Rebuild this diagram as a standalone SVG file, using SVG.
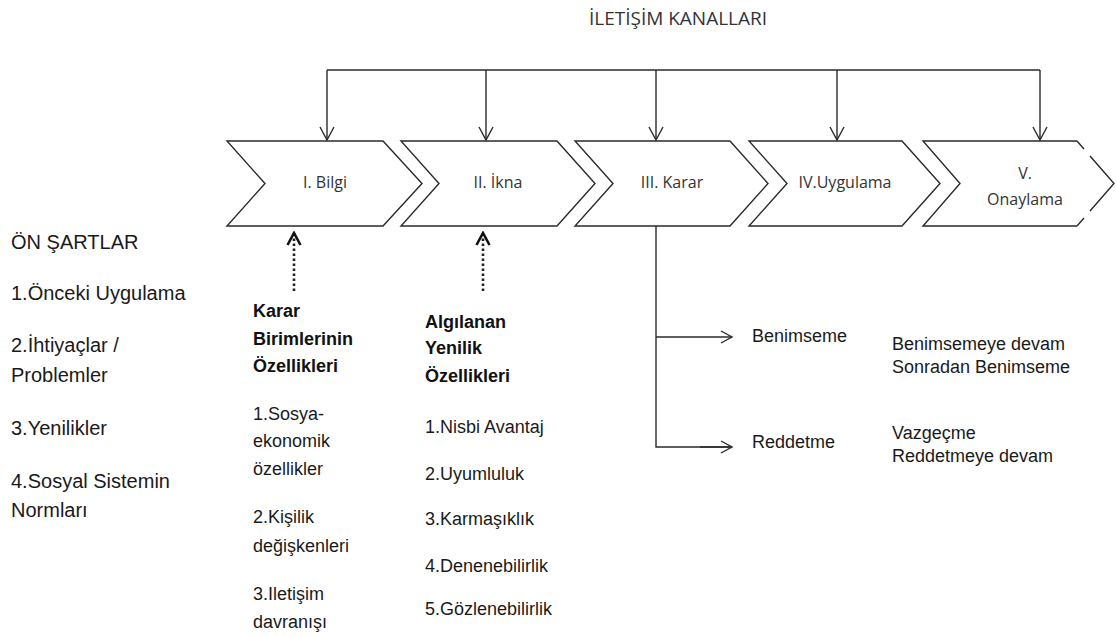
<svg xmlns="http://www.w3.org/2000/svg" width="1116" height="637" viewBox="0 0 1116 637">
<style>
.bg{fill:#fff}
.chev{fill:#fff;stroke:#2a2a2a;stroke-width:1.4;stroke-linejoin:miter}
.ln{fill:none;stroke:#2a2a2a;stroke-width:1.4}
.dot{fill:none;stroke:#222;stroke-width:2.6;stroke-dasharray:2.6 2.4}
.ct{font-family:"Open Sans",sans-serif;font-size:16px;fill:#333;text-anchor:middle}
.tt{font-family:"Open Sans",sans-serif;font-size:19px;fill:#333;text-anchor:middle}
.l{font-family:"Liberation Sans",Arial,sans-serif;font-size:20px;fill:#1a1a1a}
.m{font-family:"Liberation Sans",Arial,sans-serif;font-size:18px;fill:#1a1a1a}
.b{font-weight:bold;fill:#111}
</style>
<defs>
<marker id="ah" viewBox="0 0 16 16" refX="14" refY="8" markerWidth="16" markerHeight="16" markerUnits="userSpaceOnUse" orient="auto">
<path d="M1,1 L14,8 L1,15" fill="none" stroke="#2a2a2a" stroke-width="1.4"/>
</marker>
<marker id="ahs" viewBox="0 0 14 14" refX="12" refY="7" markerWidth="14" markerHeight="14" markerUnits="userSpaceOnUse" orient="auto">
<path d="M1,1 L12,7 L1,13" fill="none" stroke="#2a2a2a" stroke-width="1.4"/>
</marker>
<marker id="ahd" viewBox="0 0 16 16" refX="14" refY="8" markerWidth="16" markerHeight="16" markerUnits="userSpaceOnUse" orient="auto">
<path d="M2,1.5 L14,8 L2,14.5" fill="none" stroke="#111" stroke-width="2.6"/>
</marker>
</defs>
<rect class="bg" x="0" y="0" width="1116" height="637"/>

<text id="title" class="tt" x="678" y="25">İLETİŞİM KANALLARI</text>

<g id="connectors">
<path class="ln" d="M327,70 H1040"/>
<path class="ln" d="M327,70 V140" marker-end="url(#ah)"/>
<path class="ln" d="M486,70 V140" marker-end="url(#ah)"/>
<path class="ln" d="M656,70 V140" marker-end="url(#ah)"/>
<path class="ln" d="M837,70 V140" marker-end="url(#ah)"/>
<path class="ln" d="M1040,70 V140" marker-end="url(#ah)"/>
<path class="dot" d="M294,291 V233" marker-end="url(#ahd)"/>
<path class="dot" d="M483,291 V233" marker-end="url(#ahd)"/>
<path class="ln" d="M656,226 V447 H732"/>
<path class="ln" d="M656,337 H732" marker-end="url(#ahs)"/>
<path class="ln" d="M700,447 H732" marker-end="url(#ahs)"/>
</g>

<g id="stage1">
<path class="chev" d="M227,141 H383 L422,183.5 L383,226 H227 L265,183.5 Z"/>
<text class="ct" x="325" y="188">I. Bilgi</text>
</g>
<g id="stage2">
<path class="chev" d="M401,141 H557 L595,183.5 L557,226 H401 L439,183.5 Z"/>
<text class="ct" x="498" y="188">II. İkna</text>
</g>
<g id="stage3">
<path class="chev" d="M575,141 H730 L768,183.5 L730,226 H575 L613,183.5 Z"/>
<text class="ct" x="672" y="188">III. Karar</text>
</g>
<g id="stage4">
<path class="chev" d="M749,141 H902 L940,183.5 L902,226 H749 L787,183.5 Z"/>
<text class="ct" x="845" y="188">IV.Uygulama</text>
</g>
<g id="stage5">
<path d="M1077,141 H923 L960,183.5 L923,226 H1077" fill="#fff" stroke="#2a2a2a" stroke-width="1.4"/>
<path class="ln" d="M1077,141 L1084,149 M1090,156 L1114,183.5 L1090,211 M1084,218 L1077,226"/>
<text class="ct" x="1025" y="179">V.</text>
<text class="ct" x="1025" y="205">Onaylama</text>
</g>

<g id="preconditions">
<text class="l" x="11" y="249">ÖN ŞARTLAR</text>
<text class="l" x="11" y="300">1.Önceki Uygulama</text>
<text class="l" x="11" y="352">2.İhtiyaçlar /</text>
<text class="l" x="11" y="382">Problemler</text>
<text class="l" x="11" y="435">3.Yenilikler</text>
<text class="l" x="11" y="488">4.Sosyal Sistemin</text>
<text class="l" x="11" y="517">Normları</text>
</g>

<g id="decision-units">
<text class="m b" x="253" y="317">Karar</text>
<text class="m b" x="253" y="345">Birimlerinin</text>
<text class="m b" x="253" y="372">Özellikleri</text>
<text class="m" x="253" y="420">1.Sosya-</text>
<text class="m" x="253" y="447">ekonomik</text>
<text class="m" x="253" y="475">özellikler</text>
<text class="m" x="253" y="523">2.Kişilik</text>
<text class="m" x="253" y="552">değişkenleri</text>
<text class="m" x="253" y="600">3.Iletişim</text>
<text class="m" x="253" y="628">davranışı</text>
</g>

<g id="perceived">
<text class="m b" x="425" y="328">Algılanan</text>
<text class="m b" x="425" y="354">Yenilik</text>
<text class="m b" x="425" y="382">Özellikleri</text>
<text class="m" x="425" y="433">1.Nisbi Avantaj</text>
<text class="m" x="425" y="480">2.Uyumluluk</text>
<text class="m" x="425" y="525">3.Karmaşıklık</text>
<text class="m" x="425" y="572">4.Denenebilirlik</text>
<text class="m" x="425" y="615">5.Gözlenebilirlik</text>
</g>

<g id="adoption">
<text class="m" x="752" y="342">Benimseme</text>
<text class="m" x="892" y="350">Benimsemeye devam</text>
<text class="m" x="892" y="373">Sonradan Benimseme</text>
</g>
<g id="rejection">
<text class="m" x="752" y="448">Reddetme</text>
<text class="m" x="892" y="439">Vazgeçme</text>
<text class="m" x="892" y="462">Reddetmeye devam</text>
</g>
</svg>
